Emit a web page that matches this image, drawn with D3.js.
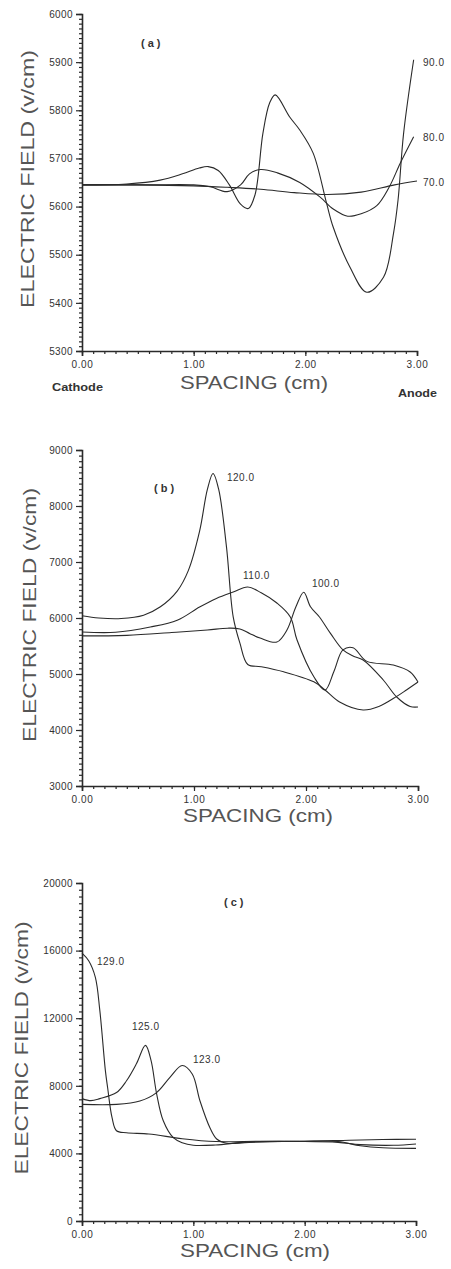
<!DOCTYPE html>
<html><head><meta charset="utf-8">
<script src="https://cdn.jsdelivr.net/npm/d3@7/dist/d3.min.js"></script>
<style>
html,body{margin:0;padding:0;background:#fff;}
svg{display:block;}
.tick text{font-family:"Liberation Sans",Arial,sans-serif;fill:#333;}
</style></head>
<body>
<svg id="chart" width="451" height="1269"></svg>
<script>
// ---------------- DATA ----------------
const xTicks = [0, 1, 2, 3];
const xMinor = d3.range(0, 3.0001, 0.1);

const yTicksA = [5300, 5400, 5500, 5600, 5700, 5800, 5900, 6000];
const yTicksB = [3000, 4000, 5000, 6000, 7000, 8000, 9000];
const yTicksC = [0, 4000, 8000, 12000, 16000, 20000];

// panel (a) : spacing (cm), field (v/cm)
const a70 = [[0,5645],[0.5,5645],[1.0,5643],[1.3,5640],[1.6,5636],[1.9,5629],[2.2,5625],[2.5,5630],[2.8,5645],[3.0,5653]];
const a80 = [[0,5645],[0.6,5645],[1.0,5645],[1.15,5641],[1.3,5631],[1.42,5645],[1.5,5668],[1.6,5677],[1.75,5670],[1.95,5650],[2.13,5620],[2.25,5595],[2.38,5580],[2.5,5585],[2.64,5602],[2.75,5640],[2.85,5690],[2.97,5745]];
const a90 = [[0,5645],[0.4,5647],[0.7,5655],[0.9,5668],[1.05,5680],[1.13,5683],[1.22,5675],[1.32,5645],[1.42,5605],[1.49,5596],[1.55,5625],[1.62,5752],[1.68,5815],[1.73,5832],[1.86,5786],[1.95,5759],[2.07,5711],[2.19,5607],[2.25,5557],[2.4,5474],[2.55,5422],[2.7,5453],[2.79,5545],[2.83,5613],[2.88,5752],[2.97,5905]];

// panel (b)
const b100 = [[0,5680],[0.4,5690],[0.8,5740],[1.12,5786],[1.3,5818],[1.41,5805],[1.5,5720],[1.59,5643],[1.74,5571],[1.83,5786],[1.91,6200],[1.98,6460],[2.04,6200],[2.12,6018],[2.22,5720],[2.33,5430],[2.42,5320],[2.51,5250],[2.69,4893],[2.81,4589],[2.93,4420],[3.0,4411]];
const b110 = [[0,5750],[0.3,5745],[0.61,5839],[0.85,5960],[1.05,6196],[1.2,6350],[1.35,6464],[1.48,6554],[1.6,6450],[1.74,6268],[1.86,6018],[1.92,5607],[2.07,4950],[2.17,4714],[2.25,5050],[2.33,5430],[2.42,5470],[2.54,5230],[2.78,5160],[2.93,5036],[3.0,4857]];
const b120 = [[0,6040],[0.15,6000],[0.35,5990],[0.55,6050],[0.7,6200],[0.85,6480],[0.95,6850],[1.05,7550],[1.12,8300],[1.17,8580],[1.22,8300],[1.29,7270],[1.35,6020],[1.41,5550],[1.48,5170],[1.6,5130],[1.8,5040],[2.07,4860],[2.17,4714],[2.3,4500],[2.51,4357],[2.65,4420],[2.81,4600],[2.9,4720],[3.0,4857]];

// panel (c)
const c123 = [[0,6900],[0.31,6900],[0.52,7100],[0.67,7600],[0.79,8500],[0.9,9200],[0.99,8700],[1.06,7100],[1.15,5500],[1.21,4850],[1.3,4600],[1.5,4650],[2.0,4720],[2.3,4700],[2.5,4450],[2.7,4330],[3.0,4300]];
const c125 = [[0,7240],[0.08,7120],[0.16,7240],[0.31,7600],[0.4,8300],[0.49,9320],[0.57,10390],[0.62,9500],[0.67,7540],[0.73,5930],[0.82,4930],[0.9,4630],[1.0,4480],[1.2,4500],[1.5,4680],[2.0,4700],[2.3,4650],[2.5,4520],[2.8,4480],[3.0,4560]];
const c129 = [[0,15850],[0.06,15400],[0.12,14420],[0.16,12460],[0.21,8900],[0.23,7900],[0.27,6110],[0.31,5340],[0.4,5220],[0.6,5150],[0.9,4870],[1.2,4700],[1.6,4720],[2.0,4720],[2.4,4780],[2.7,4820],[3.0,4840]];

const labelsA = ["90.0", "80.0", "70.0"];
const labelsB = ["120.0", "110.0", "100.0"];
const labelsC = ["129.0", "125.0", "123.0"];

// ---------------- DRAW ----------------
const svg = d3.select("#chart");
const FONT = '"Liberation Sans", Arial, sans-serif';
const INK = "#2a2a2a";

function panel(p) {
  const g = svg.append("g");
  const x = d3.scaleLinear().domain([0, 3]).range([p.x0, p.x1]);
  const y = d3.scaleLinear().domain(p.yDomain).range([p.yBottom, p.yTop]);

  // minor ticks
  g.append("g").attr("transform", `translate(0,${p.yBottom})`)
    .call(d3.axisBottom(x).tickValues(xMinor).tickSize(3).tickFormat(""))
    .call(s => s.select(".domain").remove())
    .selectAll("line").attr("stroke", INK).attr("stroke-width", 1.2);
  g.append("g").attr("transform", `translate(${p.x0},0)`)
    .call(d3.axisLeft(y).tickValues(p.yMinor).tickSize(3).tickFormat(""))
    .call(s => s.select(".domain").remove())
    .selectAll("line").attr("stroke", INK).attr("stroke-width", 1.2);

  // major axes
  const xa = g.append("g").attr("transform", `translate(0,${p.yBottom})`)
    .call(d3.axisBottom(x).tickValues(xTicks).tickSize(5).tickPadding(5).tickFormat(d3.format(".2f")));
  xa.select(".domain").attr("stroke", INK).attr("stroke-width", 1.6);
  xa.selectAll("line").attr("stroke", INK).attr("stroke-width", 1.2);
  xa.selectAll("text").attr("font-size", 10).attr("letter-spacing", 0.6).attr("font-family", FONT);

  const ya = g.append("g").attr("transform", `translate(${p.x0},0)`)
    .call(d3.axisLeft(y).tickValues(p.yTicks).tickSize(6).tickPadding(3).tickFormat(d3.format("d")));
  ya.select(".domain").attr("stroke", INK).attr("stroke-width", 1.6);
  ya.selectAll("line").attr("stroke", INK).attr("stroke-width", 1.2);
  ya.selectAll("text").attr("font-size", 10).attr("letter-spacing", 0.4).attr("font-family", FONT);

  // curves
  const line = d3.line().x(d => x(d[0])).y(d => y(d[1])).curve(d3.curveCatmullRom.alpha(0.5));
  p.series.forEach(s => {
    g.append("path").datum(s).attr("d", line)
      .attr("fill", "none").attr("stroke", INK).attr("stroke-width", 1.1);
  });

  // curve labels
  p.labels.forEach((t, i) => {
    g.append("text").text(t).attr("x", p.labelPos[i][0]).attr("y", p.labelPos[i][1])
      .attr("font-size", 10).attr("letter-spacing", 0.5).attr("font-family", FONT).attr("fill", "#333");
  });

  // panel tag
  g.append("text").text(p.tag).attr("x", p.tagPos[0]).attr("y", p.tagPos[1])
    .attr("font-size", 11).attr("letter-spacing", 3).attr("font-weight", "bold")
    .attr("font-family", FONT).attr("fill", "#333");

  // x title
  g.append("text").text("SPACING  (cm)").attr("x", p.xTitle[0]).attr("y", p.xTitle[1])
    .attr("font-size", 18).attr("font-family", FONT).attr("fill", "#555")
    .attr("textLength", p.xTitle[2]).attr("lengthAdjust", "spacingAndGlyphs");

  // y title
  g.append("text").text("ELECTRIC  FIELD  (v/cm)")
    .attr("transform", `translate(${p.yTitle[0]},${p.yTitle[1]}) rotate(-90)`)
    .attr("text-anchor", "middle").attr("dominant-baseline", "central")
    .attr("font-size", 18).attr("font-family", FONT).attr("fill", "#555")
    .attr("textLength", p.yTitle[2]).attr("lengthAdjust", "spacingAndGlyphs");
  return g;
}

const ga = panel({
  x0: 82, x1: 417, yBottom: 351, yTop: 14, yDomain: [5300, 6000],
  yTicks: yTicksA, yMinor: d3.range(5300, 6000.1, 10),
  series: [a90, a80, a70], labels: labelsA,
  labelPos: [[423, 66], [423, 141], [423, 186]],
  tag: "(a)", tagPos: [141, 47],
  xTitle: [180, 389, 148], yTitle: [28, 179, 258]
});
ga.append("text").text("Cathode").attr("x", 52).attr("y", 391)
  .attr("font-size", 11).attr("font-weight", "bold").attr("font-family", FONT).attr("fill", "#333")
  .attr("textLength", 51).attr("lengthAdjust", "spacingAndGlyphs");
ga.append("text").text("Anode").attr("x", 398).attr("y", 397)
  .attr("font-size", 11).attr("font-weight", "bold").attr("font-family", FONT).attr("fill", "#333")
  .attr("textLength", 39).attr("lengthAdjust", "spacingAndGlyphs");

panel({
  x0: 82, x1: 418, yBottom: 786, yTop: 450, yDomain: [3000, 9000],
  yTicks: yTicksB, yMinor: d3.range(3000, 9000.1, 100),
  series: [b120, b110, b100], labels: labelsB,
  labelPos: [[227, 481], [243, 579], [312, 587]],
  tag: "(b)", tagPos: [154, 492],
  xTitle: [183, 822, 150], yTitle: [30, 615, 254]
});

panel({
  x0: 82, x1: 416, yBottom: 1221, yTop: 883, yDomain: [0, 20000],
  yTicks: yTicksC, yMinor: d3.range(0, 20000.1, 400),
  series: [c129, c125, c123], labels: labelsC,
  labelPos: [[97, 965], [132, 1030], [193, 1063]],
  tag: "(c)", tagPos: [224, 906],
  xTitle: [180, 1257, 150], yTitle: [22, 1048, 253]
});
</script>
</body></html>
